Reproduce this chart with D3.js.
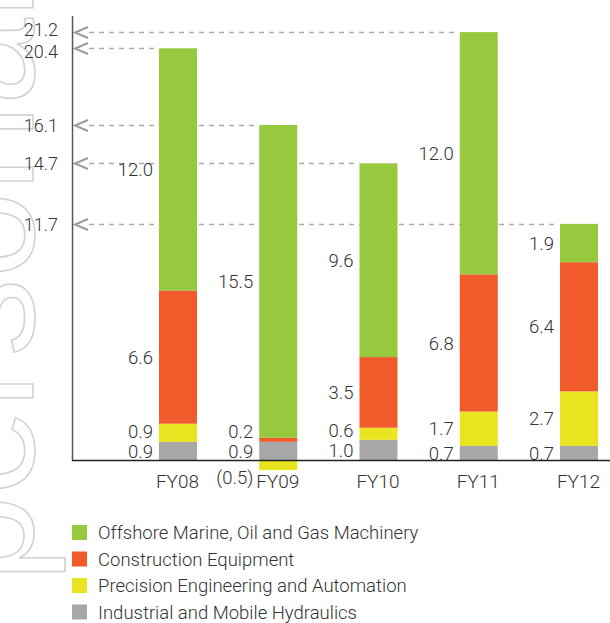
<!DOCTYPE html>
<html>
<head>
<meta charset="utf-8">
<script src="https://cdn.jsdelivr.net/npm/d3@7"></script>
<style>
  html, body { margin: 0; padding: 0; background: #fff; }
  svg { display: block; }
  text { font-family: Roboto, "Liberation Sans", sans-serif; font-weight: 300; fill: #333; }
</style>
</head>
<body>
<svg id="chart" width="610" height="623"></svg>
<script>
const categories = ["FY08", "FY09", "FY10", "FY11", "FY12"];
const hydraulics   = [0.9, 0.9, 1.0, 0.7, 0.7];
const precision    = [0.9, -0.5, 0.6, 1.7, 2.7];
const construction = [6.6, 0.2, 3.5, 6.8, 6.4];
const offshore     = [12.0, 15.5, 9.6, 12.0, 1.9];
const totals       = [20.4, 16.1, 14.7, 21.2, 11.7];
const seriesKeys   = ["hydraulics", "precision", "construction", "offshore"];
const seriesNames  = ["Industrial and Mobile Hydraulics", "Precision Engineering and Automation",
                      "Construction Equipment", "Offshore Marine, Oil and Gas Machinery"];
const seriesColors = ["#a7a7a7", "#e9e41f", "#f15a2a", "#96c93d"];
const legendOrder  = [3, 2, 1, 0];
const watermarkText = "personal";

const rows = categories.map((c, i) => ({
  cat: c, total: totals[i],
  hydraulics: hydraulics[i], precision: precision[i],
  construction: construction[i], offshore: offshore[i]
}));

const svg = d3.select("#chart");

// watermark
svg.append("text")
  .attr("transform", "translate(33,582) rotate(-90)")
  .style("font-family", "'Liberation Sans', sans-serif")
  .style("font-weight", "400")
  .style("font-size", "156px")
  .style("fill", "none")
  .style("stroke", "#d2d2d2")
  .style("stroke-width", 1.6)
  .text(watermarkText);

const x = d3.scalePoint().domain(categories).range([178, 579]);
const y = d3.scaleLinear().domain([0, 22]).range([460, 16]);
const bw = 38;

const stack = d3.stack().keys(seriesKeys).offset(d3.stackOffsetDiverging);
const series = stack(rows);

// top of positive stack per category
const tops = rows.map((r, i) => d3.max(series, s => s[i][1]));

// label positions for guide values, pushed apart where they collide
const guideY = rows.map((r, i) => Math.round(y(tops[i])) + 0.5);
const order = d3.range(rows.length).sort((a, b) => guideY[a] - guideY[b]);
const labelY = guideY.slice();
for (let j = 1; j < order.length; j++) {
  const a = order[j - 1], b = order[j];
  const gap = labelY[b] - labelY[a];
  if (gap < 22) {
    const shift = (22 - gap) / 2;
    labelY[a] -= shift; labelY[b] += shift;
  }
}

// dashed guide lines + arrowheads
const guides = svg.append("g");
rows.forEach((r, i) => {
  const yy = guideY[i];
  guides.append("line")
    .attr("x1", 89).attr("x2", x(r.cat) - bw / 2 - 2)
    .attr("y1", yy).attr("y2", yy)
    .attr("stroke", "#ababab").attr("stroke-width", 1.5)
    .attr("stroke-dasharray", "5,5");
  guides.append("path")
    .attr("d", `M88,${yy - 5.5}L75,${yy}L88,${yy + 5.5}`)
    .attr("fill", "none").attr("stroke", "#9c9c9c").attr("stroke-width", 2);
  guides.append("text")
    .attr("x", 58).attr("y", labelY[i]).attr("dy", "0.36em")
    .attr("text-anchor", "end")
    .style("font-size", "18px")
    .text(d3.format(".1f")(r.total));
});

// bars
series.forEach((s, k) => {
  svg.append("g").selectAll("rect").data(s).join("rect")
    .attr("x", d => x(d.data.cat) - bw / 2)
    .attr("width", bw)
    .attr("y", d => y(Math.max(d[0], d[1])))
    .attr("height", d => Math.abs(y(d[0]) - y(d[1])))
    .attr("fill", seriesColors[k]);
});

// value labels
const fmt = v => v < 0 ? `(${d3.format(".1f")(-v)})` : d3.format(".1f")(v);
rows.forEach((r, i) => {
  let prev = Infinity;
  series.forEach((s, k) => {
    const d = s[i];
    const v = r[seriesKeys[k]];
    let ly;
    if (v < 0) {
      ly = y(0) + 17;
    } else {
      ly = Math.min((y(d[0]) + y(d[1])) / 2, prev - 20);
      prev = ly;
    }
    svg.append("text")
      .attr("x", x(r.cat) - bw / 2 - 6).attr("y", ly).attr("dy", "0.36em")
      .attr("text-anchor", "end")
      .style("font-size", "18.5px")
      .text(fmt(v));
  });
});

// axes
svg.append("line").attr("x1", 72.5).attr("x2", 72.5).attr("y1", 16).attr("y2", 461)
  .attr("stroke", "#555").attr("stroke-width", 1.5);
svg.append("line").attr("x1", 72).attr("x2", 610).attr("y1", 460.5).attr("y2", 460.5)
  .attr("stroke", "#222").attr("stroke-width", 1.5);

const xAxis = svg.append("g").attr("transform", "translate(-1,471)")
  .call(d3.axisBottom(x).tickSize(0).tickPadding(3));
xAxis.select(".domain").remove();
xAxis.selectAll("text").style("font-size", "19px").style("font-family", null).attr("fill", null);

// legend
const lg = svg.append("g");
legendOrder.forEach((k, j) => {
  const cy = 532.5 + j * 26.5;
  lg.append("rect").attr("x", 72).attr("y", cy - 7.5).attr("width", 15).attr("height", 15)
    .attr("fill", seriesColors[k]);
  lg.append("text").attr("x", 98).attr("y", cy).attr("dy", "0.36em")
    .style("font-size", "18.5px").text(seriesNames[k]);
});
</script>
</body>
</html>
